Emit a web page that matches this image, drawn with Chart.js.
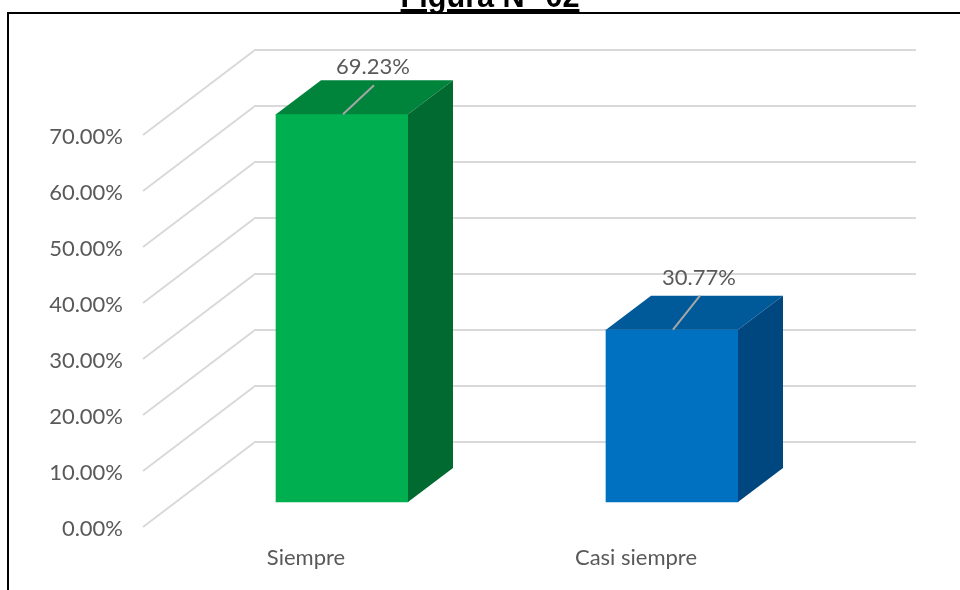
<!DOCTYPE html>
<html><head><meta charset="utf-8">
<style>
html,body{margin:0;padding:0;background:#fff;width:960px;height:590px;overflow:hidden}
#title{position:absolute;left:0;width:980px;top:-21px;text-align:center;font:bold 30.6px "Liberation Sans",Arial,sans-serif;color:#000;text-decoration:underline;white-space:nowrap;z-index:2}
#frame{position:absolute;left:7px;top:12px;width:960px;height:600px;border:2px solid #000;box-sizing:border-box;z-index:2;pointer-events:none}
#wrap{position:absolute;left:0;top:0;width:960px;height:590px}
</style></head><body>
<div id="title">Figura N° 02</div>
<div id="frame"></div>
<div id="wrap"><canvas id="c" width="960" height="590"></canvas></div>
<script src="https://cdn.jsdelivr.net/npm/chart.js@4"></script>
<script>
const categories = ["Siempre", "Casi siempre"];
const values = [69.23, 30.77];
const frontColors = ["#00B050", "#0070C0"];
const topColors = ["#00843C", "#005A9A"];
const sideColors = ["#006A30", "#004780"];
const yTicks = [0, 10, 20, 30, 40, 50, 60, 70];
const wallValues = [0, 10, 20, 30, 40, 50, 60, 70];
const fontFamily = "Lato, 'Open Sans', sans-serif";
const textColor = "#595959";

const wallDx = 112, wallDy = -85, wallRight = 916;
const depthDx = 45, depthDy = -34;
const leaderEnds = [{ dx: 32, dy: -29 }, { dx: 28, dy: -34 }];

const walls = {
  id: "walls",
  beforeDatasetsDraw(chart) {
    const ctx = chart.ctx, s = chart.scales.y;
    ctx.save();
    ctx.strokeStyle = "#D9D9D9"; ctx.lineWidth = 2; ctx.lineJoin = "miter";
    wallValues.forEach(v => {
      const py = s.getPixelForValue(v);
      ctx.beginPath();
      ctx.moveTo(143, py);
      ctx.lineTo(143 + wallDx, py + wallDy);
      ctx.lineTo(wallRight, py + wallDy);
      ctx.stroke();
    });
    ctx.restore();
  }
};

const bars3d = {
  id: "bars3d",
  afterDatasetsDraw(chart) {
    const ctx = chart.ctx, meta = chart.getDatasetMeta(0);
    meta.data.forEach((bar, i) => {
      const { x, y, base, width } = bar.getProps(["x", "y", "base", "width"], true);
      const l = x - width / 2, r = x + width / 2;
      ctx.save();
      ctx.fillStyle = topColors[i];
      ctx.beginPath();
      ctx.moveTo(l, y); ctx.lineTo(l + depthDx, y + depthDy);
      ctx.lineTo(r + depthDx, y + depthDy); ctx.lineTo(r, y); ctx.closePath(); ctx.fill();
      ctx.fillStyle = sideColors[i];
      ctx.beginPath();
      ctx.moveTo(r, y); ctx.lineTo(r + depthDx, y + depthDy);
      ctx.lineTo(r + depthDx, base + depthDy); ctx.lineTo(r, base); ctx.closePath(); ctx.fill();
      const end = leaderEnds[i];
      ctx.strokeStyle = "#A6A6A6"; ctx.lineWidth = 2;
      ctx.beginPath(); ctx.moveTo(x + 1, y); ctx.lineTo(x + end.dx, y + end.dy); ctx.stroke();
      ctx.fillStyle = textColor;
      ctx.font = "22px " + fontFamily;
      ctx.textAlign = "center"; ctx.textBaseline = "middle";
      ctx.fillText(values[i].toFixed(2) + "%", x + end.dx - 1, y + end.dy - 18);
      ctx.restore();
    });
  }
};

new Chart(document.getElementById("c"), {
  type: "bar",
  data: {
    labels: categories,
    datasets: [{
      data: values,
      yAxisID: "bars",
      backgroundColor: frontColors,
      borderWidth: 0,
      barThickness: 132
    }]
  },
  plugins: [walls, bars3d],
  options: {
    responsive: false,
    animation: false,
    layout: { padding: { left: 0, right: 123, top: 49, bottom: 0 } },
    plugins: { legend: { display: false }, tooltip: { enabled: false }, title: { display: false } },
    scales: {
      x: {
        grid: { display: false, drawTicks: false },
        border: { display: false },
        afterFit(s) { s.height = 63; },
        ticks: {
          color: textColor, font: { family: fontFamily, size: 22 },
          padding: 18, labelOffset: -36, maxRotation: 0
        }
      },
      y: {
        position: "left",
        min: 0, max: 85.36,
        afterBuildTicks(s) { s.ticks = yTicks.map(v => ({ value: v })); },
        grid: { display: false, drawTicks: false },
        border: { display: false },
        afterFit(s) { s.width = 177; s.paddingTop = 0; s.paddingBottom = 0; },
        ticks: {
          color: textColor, font: { family: fontFamily, size: 22 },
          padding: 54, labelOffset: 2,
          callback: v => v.toFixed(2) + "%"
        }
      },
      bars: {
        display: false,
        min: -4.46, max: 80.9
      }
    }
  }
});
</script>
</body></html>
